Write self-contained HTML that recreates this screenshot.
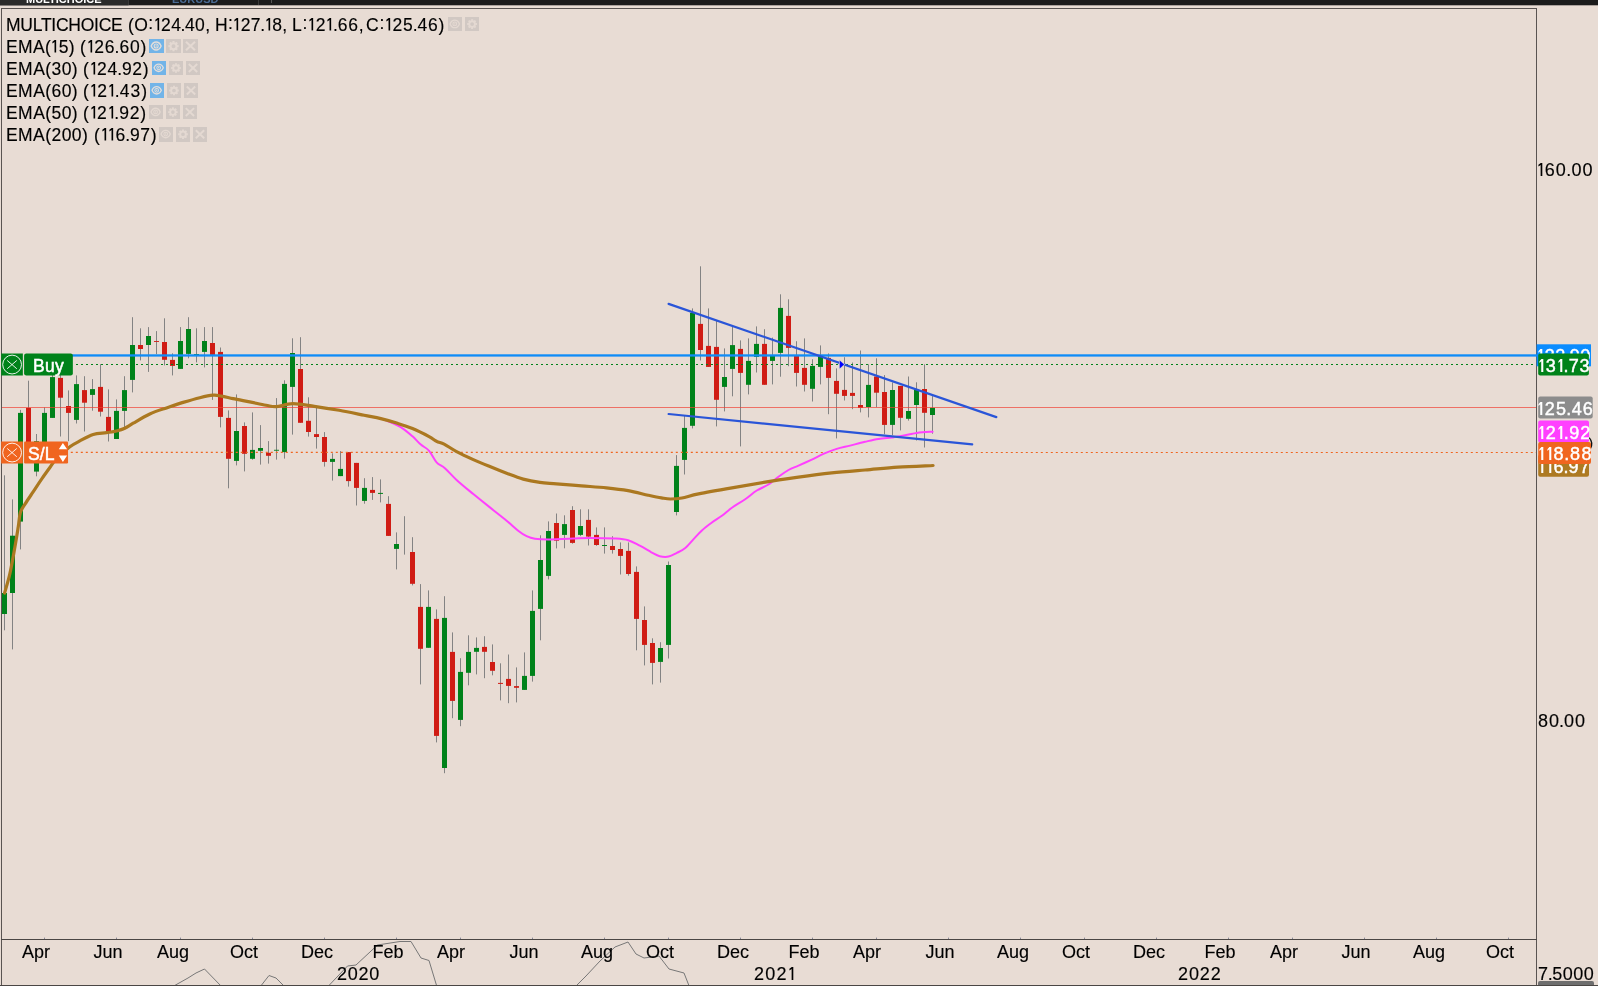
<!DOCTYPE html>
<html><head><meta charset="utf-8"><title>chart</title>
<style>
html,body{margin:0;padding:0;}
body{width:1598px;height:986px;overflow:hidden;background:#e8dcd4;font-family:"Liberation Sans",sans-serif;position:relative;color:#000;}
.abs{position:absolute;}
#topbar{left:0;top:0;width:1598px;height:6px;overflow:hidden;}
#tab1{left:0;top:0;width:128.5px;height:6px;overflow:hidden;}
.tabt{position:absolute;will-change:transform;font-size:11px;line-height:11px;font-weight:bold;white-space:nowrap;top:-6.3px;}
.lg{position:absolute;font-size:17.5px;line-height:22px;height:22px;white-space:nowrap;left:6px;}
i{font-style:normal;}
.lg span{position:absolute;top:0;white-space:nowrap;}
.mo{position:absolute;will-change:transform;-webkit-text-stroke:0.15px #000;top:941px;width:60px;text-align:center;font-size:18px;line-height:22px;}
.yr{position:absolute;top:962px;width:60px;text-align:center;font-size:18px;line-height:22px;}
.ax{position:absolute;left:1538.5px;font-size:18px;line-height:22px;white-space:nowrap;}
.pl{position:absolute;color:#fff;font-size:18px;line-height:22px;height:22px;border-radius:2px;white-space:nowrap;overflow:hidden;}
.pl span{position:absolute;left:1px;top:0.2px;transform-origin:0 50%;}
.ib{position:absolute;overflow:hidden;}
.tx{position:absolute;will-change:transform;height:22px;line-height:22px;white-space:nowrap;color:#000;-webkit-text-stroke:0.15px #000;}
.tx.w{color:#fff;}
.lt{position:absolute;height:22px;line-height:22px;font-size:17.5px;color:#fff;-webkit-text-stroke:0.35px #fff;white-space:nowrap;}
.pt{position:absolute;height:22px;line-height:22px;font-size:18px;color:#fff;-webkit-text-stroke:0.45px #fff;white-space:nowrap;}
.ib svg{display:block;}
</style></head><body>
<div id="topbar" class="abs"><svg class="abs" style="left:0;top:0" width="1598" height="6"><rect x="0" y="0" width="1598" height="5.3" fill="#1b1b1b"/><rect x="0" y="0" width="128.5" height="5.3" fill="#2b2b2b"/></svg><div id="tab1" class="abs"><div class="tabt" style="left:26px;color:#fff;">MULTICHOICE</div></div>
<div class="tabt" style="left:172px;color:#4a6b94;">EURUSD</div>
<div class="abs" style="left:128px;top:0;width:1px;height:5px;background:#3a3a3a"></div>
<div class="abs" style="left:258px;top:0;width:1px;height:5px;background:#3a3a3a"></div>
<div class="abs" style="left:271px;top:0;width:1px;height:3px;background:#555"></div>
</div>

<svg class="abs" style="left:0;top:0" width="1598" height="986" viewBox="0 0 1598 986">
<!-- bottom overview line -->
<polyline points="172.0,987.0 188.0,978.0 196.0,973.0 204.5,969.0 222.0,987.0" fill="none" stroke="#777" stroke-width="1"/>
<polyline points="260.0,987.0 269.0,975.5 276.0,978.0 285.0,987.0" fill="none" stroke="#777" stroke-width="1"/>
<polyline points="327.5,987.0 347.5,966.0 356.0,965.0 377.5,945.0 400.0,941.5 411.0,941.5 421.0,958.0 429.0,960.5 437.0,987.0" fill="none" stroke="#777" stroke-width="1"/>
<polyline points="575.0,987.0 586.0,976.0 600.0,961.0 615.0,947.0 628.0,942.0 636.0,954.0 644.0,958.0 659.0,956.0 669.0,969.0 684.0,973.0 689.5,987.0" fill="none" stroke="#777" stroke-width="1"/>
<!-- frame -->
<rect x="1" y="8" width="1536" height="1" fill="#5a5452"/>
<rect x="1" y="8" width="1" height="978" fill="#5a5452"/>
<rect x="1536" y="8" width="1" height="978" fill="#5a5452"/>
<rect x="1" y="939" width="1536" height="1" fill="#4a4644"/>
<rect x="0" y="985" width="1598" height="1" fill="#4a4644"/>
<rect x="44" y="937.6" width="1" height="1.4" fill="#8a8a9a"/><rect x="116" y="937.6" width="1" height="1.4" fill="#8a8a9a"/><rect x="180" y="937.6" width="1" height="1.4" fill="#8a8a9a"/><rect x="252" y="937.6" width="1" height="1.4" fill="#8a8a9a"/><rect x="324" y="937.6" width="1" height="1.4" fill="#8a8a9a"/><rect x="396" y="937.6" width="1" height="1.4" fill="#8a8a9a"/><rect x="460" y="937.6" width="1" height="1.4" fill="#8a8a9a"/><rect x="532" y="937.6" width="1" height="1.4" fill="#8a8a9a"/><rect x="604" y="937.6" width="1" height="1.4" fill="#8a8a9a"/><rect x="668" y="937.6" width="1" height="1.4" fill="#8a8a9a"/><rect x="740" y="937.6" width="1" height="1.4" fill="#8a8a9a"/><rect x="812" y="937.6" width="1" height="1.4" fill="#8a8a9a"/><rect x="876" y="937.6" width="1" height="1.4" fill="#8a8a9a"/><rect x="948" y="937.6" width="1" height="1.4" fill="#8a8a9a"/><rect x="1020" y="937.6" width="1" height="1.4" fill="#8a8a9a"/><rect x="1084" y="937.6" width="1" height="1.4" fill="#8a8a9a"/><rect x="1156" y="937.6" width="1" height="1.4" fill="#8a8a9a"/><rect x="1228" y="937.6" width="1" height="1.4" fill="#8a8a9a"/><rect x="1292" y="937.6" width="1" height="1.4" fill="#8a8a9a"/><rect x="1364" y="937.6" width="1" height="1.4" fill="#8a8a9a"/><rect x="1436" y="937.6" width="1" height="1.4" fill="#8a8a9a"/><rect x="1508" y="937.6" width="1" height="1.4" fill="#8a8a9a"/>
<!-- candles -->
<rect x="4" y="475.3" width="1" height="155.0" fill="#838383"/>
<rect x="2" y="593.0" width="5" height="21.0" fill="#00821a"/>
<rect x="12" y="499.4" width="1" height="150.0" fill="#838383"/>
<rect x="10" y="535.7" width="5" height="57.3" fill="#00821a"/>
<rect x="20" y="409.9" width="1" height="139.5" fill="#838383"/>
<rect x="18" y="412.9" width="5" height="108.7" fill="#00821a"/>
<rect x="28" y="380.7" width="1" height="77.3" fill="#838383"/>
<rect x="26" y="407.9" width="5" height="44.1" fill="#d01c14"/>
<rect x="36" y="434.0" width="1" height="42.3" fill="#838383"/>
<rect x="34" y="441.2" width="5" height="30.4" fill="#00821a"/>
<rect x="44" y="407.4" width="1" height="47.6" fill="#838383"/>
<rect x="42" y="412.9" width="5" height="37.1" fill="#00821a"/>
<rect x="52" y="370.0" width="1" height="47.9" fill="#838383"/>
<rect x="50" y="377.1" width="5" height="40.8" fill="#00821a"/>
<rect x="60" y="372.0" width="1" height="64.5" fill="#838383"/>
<rect x="58" y="377.9" width="5" height="19.8" fill="#d01c14"/>
<rect x="68" y="390.4" width="1" height="50.8" fill="#838383"/>
<rect x="66" y="406.0" width="5" height="6.9" fill="#d01c14"/>
<rect x="76" y="375.4" width="1" height="48.1" fill="#838383"/>
<rect x="74" y="384.1" width="5" height="35.8" fill="#00821a"/>
<rect x="84" y="376.2" width="1" height="55.3" fill="#838383"/>
<rect x="82" y="390.1" width="5" height="12.6" fill="#d01c14"/>
<rect x="92" y="379.1" width="1" height="31.6" fill="#838383"/>
<rect x="90" y="389.1" width="5" height="5.8" fill="#00821a"/>
<rect x="100" y="364.1" width="1" height="52.4" fill="#838383"/>
<rect x="98" y="386.9" width="5" height="24.8" fill="#d01c14"/>
<rect x="108" y="389.4" width="1" height="52.1" fill="#838383"/>
<rect x="106" y="416.9" width="5" height="14.3" fill="#d01c14"/>
<rect x="116" y="399.4" width="1" height="39.6" fill="#838383"/>
<rect x="114" y="410.9" width="5" height="28.1" fill="#00821a"/>
<rect x="124" y="376.2" width="1" height="52.0" fill="#838383"/>
<rect x="122" y="390.1" width="5" height="20.8" fill="#00821a"/>
<rect x="132" y="317.2" width="1" height="75.2" fill="#838383"/>
<rect x="130" y="345.0" width="5" height="34.9" fill="#00821a"/>
<rect x="140" y="328.3" width="1" height="32.1" fill="#838383"/>
<rect x="138" y="345.0" width="5" height="4.0" fill="#d01c14"/>
<rect x="148" y="327.1" width="1" height="44.8" fill="#838383"/>
<rect x="146" y="336.0" width="5" height="9.0" fill="#00821a"/>
<rect x="156" y="331.1" width="1" height="23.0" fill="#838383"/>
<rect x="154" y="341.0" width="5" height="0.9" fill="#d01c14"/>
<rect x="164" y="318.3" width="1" height="47.1" fill="#838383"/>
<rect x="162" y="342.0" width="5" height="17.8" fill="#d01c14"/>
<rect x="172" y="353.3" width="1" height="22.1" fill="#838383"/>
<rect x="170" y="359.9" width="5" height="6.0" fill="#d01c14"/>
<rect x="180" y="327.1" width="1" height="41.8" fill="#838383"/>
<rect x="178" y="341.0" width="5" height="27.9" fill="#00821a"/>
<rect x="188" y="317.2" width="1" height="41.1" fill="#838383"/>
<rect x="186" y="329.0" width="5" height="24.9" fill="#00821a"/>
<rect x="196" y="328.3" width="1" height="34.1" fill="#838383"/>
<rect x="194" y="354.0" width="5" height="1.0" fill="#00821a"/>
<rect x="204" y="327.1" width="1" height="40.3" fill="#838383"/>
<rect x="202" y="341.0" width="5" height="10.9" fill="#00821a"/>
<rect x="212" y="327.1" width="1" height="72.8" fill="#838383"/>
<rect x="210" y="343.0" width="5" height="11.9" fill="#d01c14"/>
<rect x="220" y="347.5" width="1" height="79.9" fill="#838383"/>
<rect x="218" y="351.9" width="5" height="65.0" fill="#d01c14"/>
<rect x="228" y="410.4" width="1" height="77.9" fill="#838383"/>
<rect x="226" y="417.9" width="5" height="40.9" fill="#d01c14"/>
<rect x="236" y="394.4" width="1" height="71.0" fill="#838383"/>
<rect x="234" y="431.0" width="5" height="29.9" fill="#00821a"/>
<rect x="244" y="422.4" width="1" height="49.0" fill="#838383"/>
<rect x="242" y="426.0" width="5" height="27.8" fill="#d01c14"/>
<rect x="252" y="412.4" width="1" height="47.3" fill="#838383"/>
<rect x="250" y="449.9" width="5" height="8.9" fill="#00821a"/>
<rect x="260" y="425.1" width="1" height="39.5" fill="#838383"/>
<rect x="258" y="448.0" width="5" height="2.8" fill="#00821a"/>
<rect x="268" y="441.1" width="1" height="22.5" fill="#838383"/>
<rect x="266" y="452.8" width="5" height="3.0" fill="#d01c14"/>
<rect x="276" y="398.1" width="1" height="61.5" fill="#838383"/>
<rect x="274" y="449.8" width="5" height="0.9" fill="#00821a"/>
<rect x="284" y="380.3" width="1" height="78.3" fill="#838383"/>
<rect x="282" y="383.9" width="5" height="68.2" fill="#00821a"/>
<rect x="292" y="338.3" width="1" height="96.3" fill="#838383"/>
<rect x="290" y="353.0" width="5" height="33.9" fill="#00821a"/>
<rect x="300" y="337.2" width="1" height="85.6" fill="#838383"/>
<rect x="298" y="369.0" width="5" height="53.8" fill="#d01c14"/>
<rect x="308" y="397.3" width="1" height="39.3" fill="#838383"/>
<rect x="306" y="420.8" width="5" height="11.2" fill="#d01c14"/>
<rect x="316" y="407.7" width="1" height="40.9" fill="#838383"/>
<rect x="314" y="434.1" width="5" height="2.9" fill="#d01c14"/>
<rect x="324" y="432.1" width="1" height="34.5" fill="#838383"/>
<rect x="322" y="437.0" width="5" height="24.9" fill="#d01c14"/>
<rect x="332" y="453.3" width="1" height="27.3" fill="#838383"/>
<rect x="330" y="458.9" width="5" height="3.0" fill="#00821a"/>
<rect x="340" y="451.1" width="1" height="25.0" fill="#838383"/>
<rect x="338" y="468.9" width="5" height="7.2" fill="#00821a"/>
<rect x="348" y="452.1" width="1" height="34.5" fill="#838383"/>
<rect x="346" y="452.1" width="5" height="29.0" fill="#d01c14"/>
<rect x="356" y="462.9" width="1" height="42.6" fill="#838383"/>
<rect x="354" y="462.9" width="5" height="25.0" fill="#d01c14"/>
<rect x="364" y="478.2" width="1" height="25.5" fill="#838383"/>
<rect x="362" y="487.9" width="5" height="13.0" fill="#00821a"/>
<rect x="372" y="477.1" width="1" height="22.8" fill="#838383"/>
<rect x="370" y="489.9" width="5" height="3.0" fill="#d01c14"/>
<rect x="380" y="479.4" width="1" height="23.0" fill="#838383"/>
<rect x="378" y="492.9" width="5" height="1.0" fill="#00821a"/>
<rect x="388" y="496.2" width="1" height="39.7" fill="#838383"/>
<rect x="386" y="503.9" width="5" height="32.0" fill="#d01c14"/>
<rect x="396" y="532.4" width="1" height="37.0" fill="#838383"/>
<rect x="394" y="544.0" width="5" height="4.9" fill="#00821a"/>
<rect x="404" y="516.2" width="1" height="38.4" fill="#838383"/>
<rect x="412" y="537.2" width="1" height="48.2" fill="#838383"/>
<rect x="410" y="552.0" width="5" height="31.8" fill="#d01c14"/>
<rect x="420" y="584.1" width="1" height="100.3" fill="#838383"/>
<rect x="418" y="606.9" width="5" height="41.9" fill="#d01c14"/>
<rect x="428" y="590.4" width="1" height="57.4" fill="#838383"/>
<rect x="426" y="606.9" width="5" height="40.9" fill="#00821a"/>
<rect x="436" y="609.4" width="1" height="133.0" fill="#838383"/>
<rect x="434" y="618.9" width="5" height="117.0" fill="#d01c14"/>
<rect x="444" y="596.2" width="1" height="177.0" fill="#838383"/>
<rect x="442" y="617.9" width="5" height="150.1" fill="#00821a"/>
<rect x="452" y="632.4" width="1" height="85.8" fill="#838383"/>
<rect x="450" y="651.9" width="5" height="49.0" fill="#d01c14"/>
<rect x="460" y="658.2" width="1" height="68.0" fill="#838383"/>
<rect x="458" y="671.9" width="5" height="48.0" fill="#00821a"/>
<rect x="468" y="635.3" width="1" height="50.0" fill="#838383"/>
<rect x="466" y="651.9" width="5" height="20.9" fill="#00821a"/>
<rect x="476" y="637.4" width="1" height="37.0" fill="#838383"/>
<rect x="474" y="647.9" width="5" height="3.9" fill="#00821a"/>
<rect x="484" y="636.2" width="1" height="42.0" fill="#838383"/>
<rect x="482" y="646.9" width="5" height="4.9" fill="#d01c14"/>
<rect x="492" y="644.4" width="1" height="30.9" fill="#838383"/>
<rect x="490" y="662.0" width="5" height="8.8" fill="#d01c14"/>
<rect x="500" y="663.3" width="1" height="37.1" fill="#838383"/>
<rect x="498" y="682.9" width="5" height="1.0" fill="#d01c14"/>
<rect x="508" y="654.5" width="1" height="48.7" fill="#838383"/>
<rect x="506" y="678.9" width="5" height="7.0" fill="#d01c14"/>
<rect x="516" y="667.4" width="1" height="35.0" fill="#838383"/>
<rect x="514" y="686.1" width="5" height="1.7" fill="#d01c14"/>
<rect x="524" y="652.4" width="1" height="37.5" fill="#838383"/>
<rect x="522" y="675.9" width="5" height="14.0" fill="#00821a"/>
<rect x="532" y="590.4" width="1" height="91.2" fill="#838383"/>
<rect x="530" y="610.9" width="5" height="65.0" fill="#00821a"/>
<rect x="540" y="535.3" width="1" height="105.0" fill="#838383"/>
<rect x="538" y="560.0" width="5" height="48.9" fill="#00821a"/>
<rect x="548" y="521.4" width="1" height="58.0" fill="#838383"/>
<rect x="546" y="531.0" width="5" height="44.9" fill="#00821a"/>
<rect x="556" y="513.5" width="1" height="34.9" fill="#838383"/>
<rect x="554" y="523.0" width="5" height="17.7" fill="#d01c14"/>
<rect x="564" y="515.3" width="1" height="33.0" fill="#838383"/>
<rect x="562" y="524.1" width="5" height="10.8" fill="#00821a"/>
<rect x="572" y="506.2" width="1" height="37.5" fill="#838383"/>
<rect x="570" y="510.0" width="5" height="32.9" fill="#d01c14"/>
<rect x="580" y="509.3" width="1" height="26.8" fill="#838383"/>
<rect x="578" y="526.0" width="5" height="8.9" fill="#00821a"/>
<rect x="588" y="509.3" width="1" height="36.2" fill="#838383"/>
<rect x="586" y="519.9" width="5" height="16.7" fill="#d01c14"/>
<rect x="596" y="527.4" width="1" height="18.4" fill="#838383"/>
<rect x="594" y="534.9" width="5" height="10.1" fill="#d01c14"/>
<rect x="604" y="527.4" width="1" height="26.2" fill="#838383"/>
<rect x="602" y="545.0" width="5" height="1.0" fill="#00821a"/>
<rect x="612" y="536.2" width="1" height="17.4" fill="#838383"/>
<rect x="610" y="546.0" width="5" height="4.0" fill="#d01c14"/>
<rect x="620" y="542.4" width="1" height="32.1" fill="#838383"/>
<rect x="618" y="549.0" width="5" height="6.9" fill="#d01c14"/>
<rect x="628" y="542.4" width="1" height="33.3" fill="#838383"/>
<rect x="626" y="550.9" width="5" height="23.1" fill="#d01c14"/>
<rect x="636" y="566.4" width="1" height="83.9" fill="#838383"/>
<rect x="634" y="571.9" width="5" height="47.0" fill="#d01c14"/>
<rect x="644" y="606.4" width="1" height="59.0" fill="#838383"/>
<rect x="642" y="620.0" width="5" height="24.9" fill="#d01c14"/>
<rect x="652" y="638.3" width="1" height="46.1" fill="#838383"/>
<rect x="650" y="643.0" width="5" height="19.9" fill="#d01c14"/>
<rect x="660" y="642.2" width="1" height="40.4" fill="#838383"/>
<rect x="658" y="648.0" width="5" height="13.9" fill="#00821a"/>
<rect x="668" y="561.5" width="1" height="97.0" fill="#838383"/>
<rect x="666" y="565.0" width="5" height="79.9" fill="#00821a"/>
<rect x="676" y="455.1" width="1" height="60.3" fill="#838383"/>
<rect x="674" y="465.9" width="5" height="46.1" fill="#00821a"/>
<rect x="684" y="415.6" width="1" height="58.9" fill="#838383"/>
<rect x="682" y="427.9" width="5" height="32.0" fill="#00821a"/>
<rect x="692" y="308.4" width="1" height="120.0" fill="#838383"/>
<rect x="690" y="312.9" width="5" height="112.9" fill="#00821a"/>
<rect x="700" y="266.3" width="1" height="94.2" fill="#838383"/>
<rect x="698" y="323.9" width="5" height="26.1" fill="#d01c14"/>
<rect x="708" y="308.4" width="1" height="58.5" fill="#838383"/>
<rect x="706" y="345.9" width="5" height="21.0" fill="#d01c14"/>
<rect x="716" y="320.9" width="1" height="105.5" fill="#838383"/>
<rect x="714" y="346.9" width="5" height="52.9" fill="#d01c14"/>
<rect x="724" y="348.4" width="1" height="63.0" fill="#838383"/>
<rect x="722" y="377.0" width="5" height="9.9" fill="#00821a"/>
<rect x="732" y="326.7" width="1" height="69.6" fill="#838383"/>
<rect x="730" y="345.1" width="5" height="23.8" fill="#00821a"/>
<rect x="740" y="340.4" width="1" height="106.0" fill="#838383"/>
<rect x="738" y="348.9" width="5" height="24.0" fill="#d01c14"/>
<rect x="748" y="338.4" width="1" height="56.0" fill="#838383"/>
<rect x="746" y="360.9" width="5" height="23.9" fill="#00821a"/>
<rect x="756" y="326.4" width="1" height="46.1" fill="#838383"/>
<rect x="754" y="343.9" width="5" height="13.0" fill="#00821a"/>
<rect x="764" y="329.2" width="1" height="55.6" fill="#838383"/>
<rect x="762" y="343.9" width="5" height="40.9" fill="#d01c14"/>
<rect x="772" y="337.6" width="1" height="46.8" fill="#838383"/>
<rect x="770" y="355.9" width="5" height="5.0" fill="#00821a"/>
<rect x="780" y="294.3" width="1" height="82.4" fill="#838383"/>
<rect x="778" y="307.9" width="5" height="45.0" fill="#00821a"/>
<rect x="788" y="299.3" width="1" height="66.9" fill="#838383"/>
<rect x="786" y="315.9" width="5" height="32.0" fill="#d01c14"/>
<rect x="796" y="341.2" width="1" height="45.3" fill="#838383"/>
<rect x="794" y="355.9" width="5" height="17.0" fill="#d01c14"/>
<rect x="804" y="338.4" width="1" height="53.1" fill="#838383"/>
<rect x="802" y="367.9" width="5" height="16.9" fill="#d01c14"/>
<rect x="812" y="359.2" width="1" height="42.3" fill="#838383"/>
<rect x="810" y="365.9" width="5" height="22.9" fill="#00821a"/>
<rect x="820" y="345.4" width="1" height="39.0" fill="#838383"/>
<rect x="818" y="355.9" width="5" height="11.0" fill="#00821a"/>
<rect x="828" y="353.4" width="1" height="60.8" fill="#838383"/>
<rect x="826" y="357.9" width="5" height="20.0" fill="#d01c14"/>
<rect x="836" y="368.4" width="1" height="70.0" fill="#838383"/>
<rect x="834" y="380.9" width="5" height="12.9" fill="#d01c14"/>
<rect x="844" y="357.2" width="1" height="43.3" fill="#838383"/>
<rect x="842" y="389.9" width="5" height="6.0" fill="#d01c14"/>
<rect x="852" y="362.5" width="1" height="46.7" fill="#838383"/>
<rect x="850" y="392.9" width="5" height="3.0" fill="#d01c14"/>
<rect x="860" y="350.5" width="1" height="61.9" fill="#838383"/>
<rect x="858" y="405.0" width="5" height="2.9" fill="#d01c14"/>
<rect x="868" y="364.3" width="1" height="53.1" fill="#838383"/>
<rect x="866" y="384.9" width="5" height="22.1" fill="#00821a"/>
<rect x="876" y="358.3" width="1" height="48.9" fill="#838383"/>
<rect x="874" y="376.5" width="5" height="16.2" fill="#d01c14"/>
<rect x="884" y="375.1" width="1" height="59.2" fill="#838383"/>
<rect x="882" y="392.0" width="5" height="32.9" fill="#d01c14"/>
<rect x="892" y="382.4" width="1" height="52.8" fill="#838383"/>
<rect x="890" y="390.0" width="5" height="34.9" fill="#00821a"/>
<rect x="900" y="385.9" width="1" height="44.5" fill="#838383"/>
<rect x="898" y="385.9" width="5" height="31.9" fill="#d01c14"/>
<rect x="908" y="376.5" width="1" height="44.1" fill="#838383"/>
<rect x="906" y="411.0" width="5" height="7.8" fill="#00821a"/>
<rect x="916" y="382.3" width="1" height="58.2" fill="#838383"/>
<rect x="914" y="389.7" width="5" height="15.3" fill="#00821a"/>
<rect x="924" y="364.4" width="1" height="83.1" fill="#838383"/>
<rect x="922" y="389.0" width="5" height="23.8" fill="#d01c14"/>
<rect x="932" y="396.1" width="1" height="37.6" fill="#838383"/>
<rect x="930" y="407.9" width="5" height="7.1" fill="#00821a"/>
<!-- price lines -->
<rect x="2" y="407" width="1534" height="1" fill="#f03c30" fill-opacity="0.68"/>
<line x1="76" y1="364.5" x2="1536" y2="364.5" stroke="#00821a" stroke-width="1.2" stroke-dasharray="2 3"/>
<line x1="70.8" y1="452.45" x2="1536" y2="452.5" stroke="#f0651f" stroke-width="1.2" stroke-dasharray="2 3"/>
<!-- blue horizontal line -->
<rect x="72" y="354.3" width="1465" height="2.3" fill="#0f8cf8"/>
<!-- EMAs -->
<path d="M380.0 418.0 C381.9 418.8 387.9 421.1 391.7 422.8 C395.4 424.5 399.0 426.1 402.5 428.3 C406.0 430.6 409.4 433.6 412.5 436.3 C415.6 439.0 418.0 442.2 420.8 444.6 C423.6 447.0 426.5 447.8 429.1 450.8 C431.7 453.8 434.0 459.5 436.6 462.4 C439.2 465.3 441.6 465.3 444.9 468.2 C448.2 471.1 451.9 475.6 456.6 479.9 C461.3 484.2 467.8 489.5 473.3 494.1 C478.9 498.7 484.3 503.0 489.9 507.4 C495.4 511.8 501.9 516.8 506.6 520.7 C511.3 524.6 514.9 528.1 518.2 530.7 C521.5 533.3 523.8 534.9 526.6 536.2 C529.4 537.5 531.3 538.2 534.9 538.7 C538.5 539.2 541.8 539.4 548.2 539.4 C554.6 539.4 566.3 538.8 573.2 538.5 C580.1 538.2 582.9 537.9 589.8 537.9 C596.7 537.9 608.4 538.1 614.8 538.5 C621.2 538.9 623.9 539.0 628.1 540.2 C632.3 541.4 635.9 543.7 639.8 545.7 C643.7 547.7 648.1 550.5 651.4 552.3 C654.7 554.0 656.8 555.5 659.7 556.2 C662.6 556.9 665.7 557.2 668.6 556.6 C671.5 556.0 674.1 554.3 676.9 552.9 C679.7 551.5 682.5 550.3 685.3 548.0 C688.1 545.7 690.8 542.0 693.6 539.1 C696.4 536.2 698.9 533.3 701.9 530.5 C704.9 527.7 708.6 525.0 711.9 522.5 C715.2 520.0 718.6 518.2 721.9 515.8 C725.2 513.3 728.0 510.6 731.9 507.8 C735.8 505.0 741.1 502.1 745.2 499.2 C749.4 496.3 752.9 492.9 756.8 490.5 C760.7 488.1 764.9 486.8 768.5 484.5 C772.1 482.2 775.2 479.1 778.5 476.7 C781.8 474.3 785.2 471.9 788.5 470.0 C791.8 468.1 794.6 467.3 798.5 465.6 C802.4 463.9 807.6 461.6 811.8 459.7 C815.9 457.8 819.2 455.7 823.4 453.9 C827.5 452.1 832.2 450.3 836.7 448.9 C841.2 447.5 845.4 446.8 850.1 445.6 C854.8 444.4 860.3 442.9 865.0 441.8 C869.7 440.7 873.9 439.6 878.4 438.9 C882.9 438.2 888.4 438.0 891.7 437.6 C895.0 437.2 893.8 437.4 898.0 436.6 C902.2 435.8 911.0 433.8 916.8 433.0 C922.6 432.2 930.0 431.9 932.6 431.7" fill="none" stroke="#ff40ff" stroke-width="2" stroke-linejoin="round" stroke-linecap="round"/>
<path d="M4.6 593.0 C5.5 589.7 8.3 581.0 10.0 573.2 C11.7 565.5 13.6 554.3 15.0 546.5 C16.4 538.7 17.4 532.2 18.3 526.6 C19.2 521.0 19.2 516.5 20.3 512.7 C21.4 509.0 22.8 507.6 25.0 504.1 C27.2 500.6 30.5 495.8 33.3 491.6 C36.1 487.4 38.8 483.1 41.6 479.1 C44.4 475.1 47.4 471.0 49.9 467.5 C52.4 464.0 53.3 461.8 56.6 458.3 C59.9 454.9 66.0 449.7 69.9 446.8 C73.8 443.9 76.0 442.9 79.9 440.9 C83.8 438.8 88.8 435.9 93.2 434.5 C97.6 433.1 102.6 433.3 106.5 432.7 C110.4 432.1 113.5 431.8 116.5 431.0 C119.5 430.2 122.0 429.5 124.8 428.2 C127.6 426.9 129.0 425.6 133.2 423.2 C137.4 420.8 144.2 416.6 149.8 414.0 C155.4 411.4 160.9 409.8 166.5 407.9 C172.1 406.0 177.5 404.1 183.1 402.4 C188.7 400.7 194.8 398.9 199.8 397.7 C204.8 396.5 209.5 395.5 213.1 395.2 C216.7 394.9 218.1 395.5 221.4 396.1 C224.7 396.7 228.3 397.6 233.0 398.6 C237.7 399.6 244.2 400.8 249.7 401.9 C255.2 403.0 261.6 404.4 266.0 405.2 C270.4 406.0 271.6 406.9 276.0 406.7 C280.4 406.4 286.2 403.8 292.6 403.7 C299.0 403.6 306.5 405.2 314.3 406.3 C322.1 407.4 330.9 408.8 339.2 410.3 C347.5 411.8 357.3 413.9 364.2 415.3 C371.1 416.7 375.2 417.3 380.8 418.6 C386.4 419.9 392.2 421.6 397.5 423.3 C402.8 425.0 407.2 426.4 412.5 428.6 C417.8 430.8 425.1 434.5 429.1 436.6 C433.1 438.7 434.1 440.1 436.6 441.3 C439.1 442.6 440.8 442.4 444.1 444.1 C447.4 445.8 451.7 449.0 456.6 451.6 C461.5 454.2 467.8 457.1 473.3 459.6 C478.9 462.1 484.3 464.3 489.9 466.6 C495.4 468.9 501.1 471.2 506.6 473.3 C512.2 475.4 517.7 477.6 523.2 479.1 C528.8 480.6 534.4 481.6 539.9 482.4 C545.4 483.2 549.6 483.2 556.5 483.8 C563.4 484.4 573.2 485.1 581.5 485.8 C589.8 486.5 598.7 487.1 606.5 487.9 C614.3 488.7 621.2 489.5 628.1 490.7 C635.0 491.9 642.6 494.0 648.1 495.2 C653.6 496.4 657.7 497.3 661.4 497.9 C665.1 498.5 666.9 499.0 670.3 499.0 C673.7 499.0 677.2 498.9 681.9 498.0 C686.6 497.1 690.3 495.6 698.6 493.9 C706.9 492.2 720.8 489.8 731.9 487.9 C743.0 485.9 754.1 484.0 765.2 482.2 C776.3 480.4 787.4 478.8 798.5 477.2 C809.6 475.6 820.6 474.1 831.7 472.9 C842.8 471.7 854.0 470.9 865.0 470.0 C876.0 469.1 886.6 467.9 898.0 467.2 C909.4 466.4 927.2 465.8 933.1 465.5" fill="none" stroke="#ab7820" stroke-width="3.2" stroke-linejoin="round" stroke-linecap="round"/>
<!-- trendlines -->
<line x1="668.6" y1="303.9" x2="996.3" y2="417.1" stroke="#2a55d8" stroke-width="2.2" stroke-linecap="round"/>
<line x1="668.6" y1="414" x2="972.2" y2="444.3" stroke="#2a55d8" stroke-width="2.2" stroke-linecap="round"/>
<path d="M839.7 360.6 L844.1 364.5 L839.7 368.4Z" fill="#0000ff" stroke="#d9d2cc" stroke-width="1.3" paint-order="stroke" stroke-linejoin="miter"/>
</svg>

<!-- legend -->
<div class="tx " style="left:5.75px;top:13.6px;font-size:17.5px;letter-spacing:-0.257px;">MULTICHOICE</div><div class="tx " style="left:127.99px;top:13.6px;font-size:17.5px;letter-spacing:0.39px;">(O<i style="position:relative;top:-1.57px">:</i><svg viewBox="0 0 43 71.6" style="width:0.43em;height:0.716em;vertical-align:baseline;overflow:visible"><path d="M21.0 0 H29.5 V71.6 H20.2 V10.8 L8 19.8 V9.8 L21.0 0Z" fill="currentColor"/></svg>24<i style="margin:0 -0.79px">.</i>40,</div><div class="tx " style="left:215.35px;top:13.6px;font-size:17.5px;letter-spacing:0.359px;">H<i style="position:relative;top:-1.57px">:</i><svg viewBox="0 0 43 71.6" style="width:0.43em;height:0.716em;vertical-align:baseline;overflow:visible"><path d="M21.0 0 H29.5 V71.6 H20.2 V10.8 L8 19.8 V9.8 L21.0 0Z" fill="currentColor"/></svg>27<i style="margin:0 -0.79px">.</i><svg viewBox="0 0 43 71.6" style="width:0.43em;height:0.716em;vertical-align:baseline;overflow:visible"><path d="M21.0 0 H29.5 V71.6 H20.2 V10.8 L8 19.8 V9.8 L21.0 0Z" fill="currentColor"/></svg>8,</div><div class="tx " style="left:291.65px;top:13.6px;font-size:17.5px;letter-spacing:0.752px;">L<i style="position:relative;top:-1.57px">:</i><svg viewBox="0 0 43 71.6" style="width:0.43em;height:0.716em;vertical-align:baseline;overflow:visible"><path d="M21.0 0 H29.5 V71.6 H20.2 V10.8 L8 19.8 V9.8 L21.0 0Z" fill="currentColor"/></svg>2<svg viewBox="0 0 43 71.6" style="width:0.43em;height:0.716em;vertical-align:baseline;overflow:visible"><path d="M21.0 0 H29.5 V71.6 H20.2 V10.8 L8 19.8 V9.8 L21.0 0Z" fill="currentColor"/></svg><i style="margin:0 -0.79px">.</i>66,</div><div class="tx " style="left:366.4px;top:13.6px;font-size:17.5px;letter-spacing:0.743px;">C<i style="position:relative;top:-1.57px">:</i><svg viewBox="0 0 43 71.6" style="width:0.43em;height:0.716em;vertical-align:baseline;overflow:visible"><path d="M21.0 0 H29.5 V71.6 H20.2 V10.8 L8 19.8 V9.8 L21.0 0Z" fill="currentColor"/></svg>25<i style="margin:0 -0.79px">.</i>46)</div>
<div class="tx " style="left:6.05px;top:35.6px;font-size:17.5px;letter-spacing:0.349px;">EMA(<svg viewBox="0 0 43 71.6" style="width:0.43em;height:0.716em;vertical-align:baseline;overflow:visible"><path d="M21.0 0 H29.5 V71.6 H20.2 V10.8 L8 19.8 V9.8 L21.0 0Z" fill="currentColor"/></svg>5)</div><div class="tx " style="left:80.29px;top:35.6px;font-size:17.5px;letter-spacing:0.832px;">(<svg viewBox="0 0 43 71.6" style="width:0.43em;height:0.716em;vertical-align:baseline;overflow:visible"><path d="M21.0 0 H29.5 V71.6 H20.2 V10.8 L8 19.8 V9.8 L21.0 0Z" fill="currentColor"/></svg>26<i style="margin:0 -0.79px">.</i>60)</div>
<div class="tx " style="left:6.05px;top:57.6px;font-size:17.5px;letter-spacing:0.441px;">EMA(30)</div><div class="tx " style="left:83.39px;top:57.6px;font-size:17.5px;letter-spacing:0.699px;">(<svg viewBox="0 0 43 71.6" style="width:0.43em;height:0.716em;vertical-align:baseline;overflow:visible"><path d="M21.0 0 H29.5 V71.6 H20.2 V10.8 L8 19.8 V9.8 L21.0 0Z" fill="currentColor"/></svg>24<i style="margin:0 -0.79px">.</i>92)</div>
<div class="tx " style="left:6.05px;top:79.6px;font-size:17.5px;letter-spacing:0.441px;">EMA(60)</div><div class="tx " style="left:83.39px;top:79.6px;font-size:17.5px;letter-spacing:0.983px;">(<svg viewBox="0 0 43 71.6" style="width:0.43em;height:0.716em;vertical-align:baseline;overflow:visible"><path d="M21.0 0 H29.5 V71.6 H20.2 V10.8 L8 19.8 V9.8 L21.0 0Z" fill="currentColor"/></svg>2<svg viewBox="0 0 43 71.6" style="width:0.43em;height:0.716em;vertical-align:baseline;overflow:visible"><path d="M21.0 0 H29.5 V71.6 H20.2 V10.8 L8 19.8 V9.8 L21.0 0Z" fill="currentColor"/></svg><i style="margin:0 -0.79px">.</i>43)</div>
<div class="tx " style="left:6.05px;top:101.6px;font-size:17.5px;letter-spacing:0.441px;">EMA(50)</div><div class="tx " style="left:83.39px;top:101.6px;font-size:17.5px;letter-spacing:0.763px;">(<svg viewBox="0 0 43 71.6" style="width:0.43em;height:0.716em;vertical-align:baseline;overflow:visible"><path d="M21.0 0 H29.5 V71.6 H20.2 V10.8 L8 19.8 V9.8 L21.0 0Z" fill="currentColor"/></svg>2<svg viewBox="0 0 43 71.6" style="width:0.43em;height:0.716em;vertical-align:baseline;overflow:visible"><path d="M21.0 0 H29.5 V71.6 H20.2 V10.8 L8 19.8 V9.8 L21.0 0Z" fill="currentColor"/></svg><i style="margin:0 -0.79px">.</i>92)</div>
<div class="tx " style="left:6.05px;top:123.6px;font-size:17.5px;letter-spacing:0.435px;">EMA(200)</div><div class="tx " style="left:93.59px;top:123.6px;font-size:17.5px;letter-spacing:0.663px;">(<svg viewBox="0 0 43 71.6" style="width:0.43em;height:0.716em;vertical-align:baseline;overflow:visible"><path d="M21.0 0 H29.5 V71.6 H20.2 V10.8 L8 19.8 V9.8 L21.0 0Z" fill="currentColor"/></svg><svg viewBox="0 0 43 71.6" style="width:0.43em;height:0.716em;vertical-align:baseline;overflow:visible"><path d="M21.0 0 H29.5 V71.6 H20.2 V10.8 L8 19.8 V9.8 L21.0 0Z" fill="currentColor"/></svg>6<i style="margin:0 -0.79px">.</i>97)</div>
<div class="ib" style="left:448px;top:17px;width:14.2px;height:14.2px;background:#d1c8c3"><svg viewBox="0 0 15 14" width="100%" height="100%"><path d="M2.2 6.8 C4.4 1.5 9.9 1.5 12.1 6.8 C9.9 12.1 4.4 12.1 2.2 6.8Z" fill="none" stroke="#e4d9d2" stroke-width="1.45" stroke-linejoin="round"/><circle cx="7.15" cy="6.8" r="2.0" fill="none" stroke="#e4d9d2" stroke-width="1.1"/><circle cx="7.15" cy="6.8" r="0.75" fill="#e4d9d2"/></svg></div><div class="ib" style="left:465px;top:17px;width:14.2px;height:14.2px;background:#d1c8c3"><svg viewBox="0 0 15 14" width="100%" height="100%"><line x1="10.90" y1="7.00" x2="12.65" y2="7.00" stroke="#e4d9d2" stroke-width="2.1"/><line x1="9.90" y1="9.40" x2="11.14" y2="10.64" stroke="#e4d9d2" stroke-width="2.1"/><line x1="7.50" y1="10.40" x2="7.50" y2="12.15" stroke="#e4d9d2" stroke-width="2.1"/><line x1="5.10" y1="9.40" x2="3.86" y2="10.64" stroke="#e4d9d2" stroke-width="2.1"/><line x1="4.10" y1="7.00" x2="2.35" y2="7.00" stroke="#e4d9d2" stroke-width="2.1"/><line x1="5.10" y1="4.60" x2="3.86" y2="3.36" stroke="#e4d9d2" stroke-width="2.1"/><line x1="7.50" y1="3.60" x2="7.50" y2="1.85" stroke="#e4d9d2" stroke-width="2.1"/><line x1="9.90" y1="4.60" x2="11.14" y2="3.36" stroke="#e4d9d2" stroke-width="2.1"/><circle cx="7.5" cy="7" r="3.0" fill="none" stroke="#e4d9d2" stroke-width="2.0"/></svg></div><div class="ib" style="left:149px;top:39px;width:15px;height:14.3px;background:#72b4e8"><svg viewBox="0 0 15 14" width="100%" height="100%"><path d="M2.2 6.8 C4.4 1.5 9.9 1.5 12.1 6.8 C9.9 12.1 4.4 12.1 2.2 6.8Z" fill="none" stroke="#e3dedb" stroke-width="1.45" stroke-linejoin="round"/><circle cx="7.15" cy="6.8" r="2.0" fill="none" stroke="#e3dedb" stroke-width="1.1"/><circle cx="7.15" cy="6.8" r="0.75" fill="#e3dedb"/></svg></div><div class="ib" style="left:166px;top:39px;width:15px;height:14.3px;background:#d1c8c3"><svg viewBox="0 0 15 14" width="100%" height="100%"><line x1="10.90" y1="7.00" x2="12.65" y2="7.00" stroke="#e4d9d2" stroke-width="2.1"/><line x1="9.90" y1="9.40" x2="11.14" y2="10.64" stroke="#e4d9d2" stroke-width="2.1"/><line x1="7.50" y1="10.40" x2="7.50" y2="12.15" stroke="#e4d9d2" stroke-width="2.1"/><line x1="5.10" y1="9.40" x2="3.86" y2="10.64" stroke="#e4d9d2" stroke-width="2.1"/><line x1="4.10" y1="7.00" x2="2.35" y2="7.00" stroke="#e4d9d2" stroke-width="2.1"/><line x1="5.10" y1="4.60" x2="3.86" y2="3.36" stroke="#e4d9d2" stroke-width="2.1"/><line x1="7.50" y1="3.60" x2="7.50" y2="1.85" stroke="#e4d9d2" stroke-width="2.1"/><line x1="9.90" y1="4.60" x2="11.14" y2="3.36" stroke="#e4d9d2" stroke-width="2.1"/><circle cx="7.5" cy="7" r="3.0" fill="none" stroke="#e4d9d2" stroke-width="2.0"/></svg></div><div class="ib" style="left:183px;top:39px;width:15px;height:14.3px;background:#d1c8c3"><svg viewBox="0 0 15 14" width="100%" height="100%"><path d="M3.0 2.7 L12.0 11.2 M12.0 2.7 L3.0 11.2" stroke="#e4d9d2" stroke-width="2.1" fill="none"/></svg></div><div class="ib" style="left:152px;top:61px;width:14px;height:14px;background:#72b4e8"><svg viewBox="0 0 15 14" width="100%" height="100%"><path d="M2.2 6.8 C4.4 1.5 9.9 1.5 12.1 6.8 C9.9 12.1 4.4 12.1 2.2 6.8Z" fill="none" stroke="#e3dedb" stroke-width="1.45" stroke-linejoin="round"/><circle cx="7.15" cy="6.8" r="2.0" fill="none" stroke="#e3dedb" stroke-width="1.1"/><circle cx="7.15" cy="6.8" r="0.75" fill="#e3dedb"/></svg></div><div class="ib" style="left:169px;top:61px;width:14px;height:14px;background:#d1c8c3"><svg viewBox="0 0 15 14" width="100%" height="100%"><line x1="10.90" y1="7.00" x2="12.65" y2="7.00" stroke="#e4d9d2" stroke-width="2.1"/><line x1="9.90" y1="9.40" x2="11.14" y2="10.64" stroke="#e4d9d2" stroke-width="2.1"/><line x1="7.50" y1="10.40" x2="7.50" y2="12.15" stroke="#e4d9d2" stroke-width="2.1"/><line x1="5.10" y1="9.40" x2="3.86" y2="10.64" stroke="#e4d9d2" stroke-width="2.1"/><line x1="4.10" y1="7.00" x2="2.35" y2="7.00" stroke="#e4d9d2" stroke-width="2.1"/><line x1="5.10" y1="4.60" x2="3.86" y2="3.36" stroke="#e4d9d2" stroke-width="2.1"/><line x1="7.50" y1="3.60" x2="7.50" y2="1.85" stroke="#e4d9d2" stroke-width="2.1"/><line x1="9.90" y1="4.60" x2="11.14" y2="3.36" stroke="#e4d9d2" stroke-width="2.1"/><circle cx="7.5" cy="7" r="3.0" fill="none" stroke="#e4d9d2" stroke-width="2.0"/></svg></div><div class="ib" style="left:186px;top:61px;width:14px;height:14px;background:#d1c8c3"><svg viewBox="0 0 15 14" width="100%" height="100%"><path d="M3.0 2.7 L12.0 11.2 M12.0 2.7 L3.0 11.2" stroke="#e4d9d2" stroke-width="2.1" fill="none"/></svg></div><div class="ib" style="left:150px;top:83px;width:14px;height:15px;background:#72b4e8"><svg viewBox="0 0 15 14" width="100%" height="100%"><path d="M2.2 6.8 C4.4 1.5 9.9 1.5 12.1 6.8 C9.9 12.1 4.4 12.1 2.2 6.8Z" fill="none" stroke="#e3dedb" stroke-width="1.45" stroke-linejoin="round"/><circle cx="7.15" cy="6.8" r="2.0" fill="none" stroke="#e3dedb" stroke-width="1.1"/><circle cx="7.15" cy="6.8" r="0.75" fill="#e3dedb"/></svg></div><div class="ib" style="left:167px;top:83px;width:14px;height:15px;background:#d1c8c3"><svg viewBox="0 0 15 14" width="100%" height="100%"><line x1="10.90" y1="7.00" x2="12.65" y2="7.00" stroke="#e4d9d2" stroke-width="2.1"/><line x1="9.90" y1="9.40" x2="11.14" y2="10.64" stroke="#e4d9d2" stroke-width="2.1"/><line x1="7.50" y1="10.40" x2="7.50" y2="12.15" stroke="#e4d9d2" stroke-width="2.1"/><line x1="5.10" y1="9.40" x2="3.86" y2="10.64" stroke="#e4d9d2" stroke-width="2.1"/><line x1="4.10" y1="7.00" x2="2.35" y2="7.00" stroke="#e4d9d2" stroke-width="2.1"/><line x1="5.10" y1="4.60" x2="3.86" y2="3.36" stroke="#e4d9d2" stroke-width="2.1"/><line x1="7.50" y1="3.60" x2="7.50" y2="1.85" stroke="#e4d9d2" stroke-width="2.1"/><line x1="9.90" y1="4.60" x2="11.14" y2="3.36" stroke="#e4d9d2" stroke-width="2.1"/><circle cx="7.5" cy="7" r="3.0" fill="none" stroke="#e4d9d2" stroke-width="2.0"/></svg></div><div class="ib" style="left:184px;top:83px;width:14px;height:15px;background:#d1c8c3"><svg viewBox="0 0 15 14" width="100%" height="100%"><path d="M3.0 2.7 L12.0 11.2 M12.0 2.7 L3.0 11.2" stroke="#e4d9d2" stroke-width="2.1" fill="none"/></svg></div><div class="ib" style="left:149px;top:105.2px;width:13.8px;height:14.2px;background:#d1c8c3"><svg viewBox="0 0 15 14" width="100%" height="100%"><path d="M2.2 6.8 C4.4 1.5 9.9 1.5 12.1 6.8 C9.9 12.1 4.4 12.1 2.2 6.8Z" fill="none" stroke="#e4d9d2" stroke-width="1.45" stroke-linejoin="round"/><circle cx="7.15" cy="6.8" r="2.0" fill="none" stroke="#e4d9d2" stroke-width="1.1"/><circle cx="7.15" cy="6.8" r="0.75" fill="#e4d9d2"/></svg></div><div class="ib" style="left:166px;top:105.2px;width:13.8px;height:14.2px;background:#d1c8c3"><svg viewBox="0 0 15 14" width="100%" height="100%"><line x1="10.90" y1="7.00" x2="12.65" y2="7.00" stroke="#e4d9d2" stroke-width="2.1"/><line x1="9.90" y1="9.40" x2="11.14" y2="10.64" stroke="#e4d9d2" stroke-width="2.1"/><line x1="7.50" y1="10.40" x2="7.50" y2="12.15" stroke="#e4d9d2" stroke-width="2.1"/><line x1="5.10" y1="9.40" x2="3.86" y2="10.64" stroke="#e4d9d2" stroke-width="2.1"/><line x1="4.10" y1="7.00" x2="2.35" y2="7.00" stroke="#e4d9d2" stroke-width="2.1"/><line x1="5.10" y1="4.60" x2="3.86" y2="3.36" stroke="#e4d9d2" stroke-width="2.1"/><line x1="7.50" y1="3.60" x2="7.50" y2="1.85" stroke="#e4d9d2" stroke-width="2.1"/><line x1="9.90" y1="4.60" x2="11.14" y2="3.36" stroke="#e4d9d2" stroke-width="2.1"/><circle cx="7.5" cy="7" r="3.0" fill="none" stroke="#e4d9d2" stroke-width="2.0"/></svg></div><div class="ib" style="left:183px;top:105.2px;width:13.8px;height:14.2px;background:#d1c8c3"><svg viewBox="0 0 15 14" width="100%" height="100%"><path d="M3.0 2.7 L12.0 11.2 M12.0 2.7 L3.0 11.2" stroke="#e4d9d2" stroke-width="2.1" fill="none"/></svg></div><div class="ib" style="left:158.8px;top:127.2px;width:14px;height:14.5px;background:#d1c8c3"><svg viewBox="0 0 15 14" width="100%" height="100%"><path d="M2.2 6.8 C4.4 1.5 9.9 1.5 12.1 6.8 C9.9 12.1 4.4 12.1 2.2 6.8Z" fill="none" stroke="#e4d9d2" stroke-width="1.45" stroke-linejoin="round"/><circle cx="7.15" cy="6.8" r="2.0" fill="none" stroke="#e4d9d2" stroke-width="1.1"/><circle cx="7.15" cy="6.8" r="0.75" fill="#e4d9d2"/></svg></div><div class="ib" style="left:176px;top:127.2px;width:14px;height:14.5px;background:#d1c8c3"><svg viewBox="0 0 15 14" width="100%" height="100%"><line x1="10.90" y1="7.00" x2="12.65" y2="7.00" stroke="#e4d9d2" stroke-width="2.1"/><line x1="9.90" y1="9.40" x2="11.14" y2="10.64" stroke="#e4d9d2" stroke-width="2.1"/><line x1="7.50" y1="10.40" x2="7.50" y2="12.15" stroke="#e4d9d2" stroke-width="2.1"/><line x1="5.10" y1="9.40" x2="3.86" y2="10.64" stroke="#e4d9d2" stroke-width="2.1"/><line x1="4.10" y1="7.00" x2="2.35" y2="7.00" stroke="#e4d9d2" stroke-width="2.1"/><line x1="5.10" y1="4.60" x2="3.86" y2="3.36" stroke="#e4d9d2" stroke-width="2.1"/><line x1="7.50" y1="3.60" x2="7.50" y2="1.85" stroke="#e4d9d2" stroke-width="2.1"/><line x1="9.90" y1="4.60" x2="11.14" y2="3.36" stroke="#e4d9d2" stroke-width="2.1"/><circle cx="7.5" cy="7" r="3.0" fill="none" stroke="#e4d9d2" stroke-width="2.0"/></svg></div><div class="ib" style="left:193.2px;top:127.2px;width:14px;height:14.5px;background:#d1c8c3"><svg viewBox="0 0 15 14" width="100%" height="100%"><path d="M3.0 2.7 L12.0 11.2 M12.0 2.7 L3.0 11.2" stroke="#e4d9d2" stroke-width="2.1" fill="none"/></svg></div>

<!-- Buy label -->
<svg class="abs" style="left:0px;top:352px" width="26" height="26" viewBox="0 352 26 26"><rect x="1.15" y="353.5" width="21.7" height="22" rx="0" fill="#00821a"/></svg><svg class="abs" style="left:23px;top:352px" width="53" height="26" viewBox="23 352 53 26"><rect x="24.1" y="353.5" width="48.75" height="22" rx="2.2" fill="#00821a"/></svg>
<div class="tx w" style="left:32.55px;top:354.5px;font-size:17.5px;letter-spacing:0.324px;-webkit-text-stroke:0.5px #fff;">Buy</div>
<svg class="abs" style="left:0px;top:352px" width="26" height="26" viewBox="0 352 26 26"><circle cx="12.1" cy="364.55" r="9.4" fill="none" stroke="#fff" stroke-width="0.9"/><path d="M7.2 360.45 L16.8 368.75 M16.8 360.45 L7.2 368.75" stroke="#fff" stroke-opacity="0.92" stroke-width="0.95"/></svg>
<!-- S/L label -->
<svg class="abs" style="left:0px;top:440px" width="26" height="26" viewBox="0 440 26 26"><rect x="1.15" y="441.5" width="21.7" height="22" rx="0" fill="#f0651f"/></svg><svg class="abs" style="left:23px;top:440px" width="48" height="26" viewBox="23 440 48 26"><rect x="24.1" y="441.5" width="43.95" height="22" rx="1.2" fill="#f0651f"/></svg>
<div class="tx w" style="left:28.29px;top:442.6px;font-size:17.5px;letter-spacing:0.087px;-webkit-text-stroke:0.5px #fff;">S/L</div>
<svg class="abs" style="left:0px;top:440px" width="26" height="26" viewBox="0 440 26 26"><circle cx="12.1" cy="452.55" r="9.4" fill="none" stroke="#fff" stroke-width="0.9"/><path d="M7.2 448.45 L16.8 456.75 M16.8 448.45 L7.2 456.75" stroke="#fff" stroke-opacity="0.92" stroke-width="0.95"/></svg>
<svg class="abs" style="left:50px;top:441px" width="24" height="24" viewBox="50 441 24 24"><path d="M58.8 449.3 L62.9 443 L67.1 449.3Z M58.8 455.5 L67.1 455.5 L62.9 462Z" fill="#fff"/></svg>

<!-- axis -->
<div class="mo" style="left:5.5px">Apr</div><div class="mo" style="left:77.9px">Jun</div><div class="mo" style="left:143.0px">Aug</div><div class="mo" style="left:213.8px">Oct</div><div class="mo" style="left:287.3px">Dec</div><div class="mo" style="left:357.8px">Feb</div><div class="mo" style="left:421.3px">Apr</div><div class="mo" style="left:493.9px">Jun</div><div class="mo" style="left:567.4px">Aug</div><div class="mo" style="left:630.0px">Oct</div><div class="mo" style="left:703.2px">Dec</div><div class="mo" style="left:774.0px">Feb</div><div class="mo" style="left:837.4px">Apr</div><div class="mo" style="left:909.9px">Jun</div><div class="mo" style="left:983.0px">Aug</div><div class="mo" style="left:1045.8px">Oct</div><div class="mo" style="left:1119.2px">Dec</div><div class="mo" style="left:1190.3px">Feb</div><div class="mo" style="left:1253.6px">Apr</div><div class="mo" style="left:1326.0px">Jun</div><div class="mo" style="left:1399.2px">Aug</div><div class="mo" style="left:1469.7px">Oct</div><div class="tx " style="left:336.9px;top:962.9px;font-size:18px;letter-spacing:0.773px;">2020</div><div class="tx " style="left:754.4px;top:962.9px;font-size:18px;letter-spacing:1.265px;">202<svg viewBox="0 0 43 71.6" style="width:0.43em;height:0.716em;vertical-align:baseline;overflow:visible"><path d="M21.0 0 H29.5 V71.6 H20.2 V10.8 L8 19.8 V9.8 L21.0 0Z" fill="currentColor"/></svg></div><div class="tx " style="left:1177.6px;top:962.9px;font-size:18px;letter-spacing:0.9px;">2022</div>
<div class="tx " style="left:1537.36px;top:159.1px;font-size:18px;letter-spacing:1.102px;"><svg viewBox="0 0 43 71.6" style="width:0.43em;height:0.716em;vertical-align:baseline;overflow:visible"><path d="M21.0 0 H29.5 V71.6 H20.2 V10.8 L8 19.8 V9.8 L21.0 0Z" fill="currentColor"/></svg>60<i style="margin:0 -0.81px">.</i>00</div><div class="tx " style="left:1538.0px;top:710px;font-size:18px;letter-spacing:0.884px;">80<i style="margin:0 -0.81px">.</i>00</div><div class="tx " style="left:1537.8px;top:962.9px;font-size:18px;letter-spacing:0.467px;">7<i style="margin:0 -0.81px">.</i>5000</div>
<div class="abs" style="left:1538px;top:981.2px;width:55.5px;height:3.8px;background:#6e6e6e;border-radius:2px 2px 0 0"></div>

<!-- price labels -->
<svg class="abs" style="left:1535px;top:343px" width="59" height="26" viewBox="1535 343 59 26"><rect x="1536.6" y="344.3" width="54.4" height="22" rx="0" fill="#0a8cff"/></svg><div class="tx w" style="left:1537.24px;top:345px;font-size:18px;letter-spacing:0.534px;-webkit-text-stroke:0.45px #fff;"><svg viewBox="0 0 43 71.6" style="width:0.43em;height:0.716em;vertical-align:baseline;overflow:visible"><path d="M18.8 0 H29.5 V71.6 H18.0 V13.0 L8 22.0 V12.0 L18.8 0Z" fill="currentColor"/></svg>32<i style="margin:0 -0.81px">.</i>90</div>
<svg class="abs" style="left:1537px;top:395px" width="59" height="26" viewBox="1537 395 59 26"><rect x="1538.2" y="396.4" width="54.5" height="22" rx="2" fill="#8c8c8c"/></svg><div class="tx w" style="left:1537.19px;top:398px;font-size:18px;letter-spacing:1.153px;-webkit-text-stroke:0.45px #fff;"><svg viewBox="0 0 43 71.6" style="width:0.43em;height:0.716em;vertical-align:baseline;overflow:visible"><path d="M18.8 0 H29.5 V71.6 H18.0 V13.0 L8 22.0 V12.0 L18.8 0Z" fill="currentColor"/></svg>25<i style="margin:0 -0.81px">.</i>46</div>
<svg class="abs" style="left:1537px;top:419px" width="55" height="26" viewBox="1537 419 55 26"><rect x="1538.2" y="420.6" width="50.8" height="22" rx="2" fill="#ff40ff"/></svg><div class="tx w" style="left:1537.54px;top:422px;font-size:18px;letter-spacing:1.121px;-webkit-text-stroke:0.45px #fff;"><svg viewBox="0 0 43 71.6" style="width:0.43em;height:0.716em;vertical-align:baseline;overflow:visible"><path d="M18.8 0 H29.5 V71.6 H18.0 V13.0 L8 22.0 V12.0 L18.8 0Z" fill="currentColor"/></svg>2<svg viewBox="0 0 43 71.6" style="width:0.43em;height:0.716em;vertical-align:baseline;overflow:visible"><path d="M18.8 0 H29.5 V71.6 H18.0 V13.0 L8 22.0 V12.0 L18.8 0Z" fill="currentColor"/></svg><i style="margin:0 -0.81px">.</i>92</div>
<svg class="abs" style="left:1580px;top:430px" width="18" height="24" viewBox="1580 430 18 24"><path d="M1589.2 437.6 Q1593.4 442.6 1590.6 448.2" fill="none" stroke="#111" stroke-width="1.3"/></svg>
<svg class="abs" style="left:1537px;top:453px" width="55" height="26" viewBox="1537 453 55 26"><rect x="1538.2" y="454.7" width="50.8" height="22" rx="2" fill="#ad7a22"/></svg><div class="tx w" style="left:1537.54px;top:456px;font-size:18px;letter-spacing:0.821px;-webkit-text-stroke:0.45px #fff;"><svg viewBox="0 0 43 71.6" style="width:0.43em;height:0.716em;vertical-align:baseline;overflow:visible"><path d="M18.8 0 H29.5 V71.6 H18.0 V13.0 L8 22.0 V12.0 L18.8 0Z" fill="currentColor"/></svg><svg viewBox="0 0 43 71.6" style="width:0.43em;height:0.716em;vertical-align:baseline;overflow:visible"><path d="M18.8 0 H29.5 V71.6 H18.0 V13.0 L8 22.0 V12.0 L18.8 0Z" fill="currentColor"/></svg>6<i style="margin:0 -0.81px">.</i>97</div>
<svg class="abs" style="left:1537px;top:440px" width="57" height="26" viewBox="1537 440 57 26"><rect x="1538.2" y="441.9" width="52.8" height="22" rx="2" fill="#f0651f"/></svg><div class="tx w" style="left:1537.54px;top:443px;font-size:18px;letter-spacing:1.534px;-webkit-text-stroke:0.45px #fff;"><svg viewBox="0 0 43 71.6" style="width:0.43em;height:0.716em;vertical-align:baseline;overflow:visible"><path d="M18.8 0 H29.5 V71.6 H18.0 V13.0 L8 22.0 V12.0 L18.8 0Z" fill="currentColor"/></svg><svg viewBox="0 0 43 71.6" style="width:0.43em;height:0.716em;vertical-align:baseline;overflow:visible"><path d="M18.8 0 H29.5 V71.6 H18.0 V13.0 L8 22.0 V12.0 L18.8 0Z" fill="currentColor"/></svg>8<i style="margin:0 -0.81px">.</i>88</div>
<svg class="abs" style="left:1537px;top:352px" width="55" height="26" viewBox="1537 352 55 26"><rect x="1538.2" y="353.5" width="50.7" height="22" rx="2" fill="#00821a"/></svg><div class="tx w" style="left:1537.54px;top:355px;font-size:18px;letter-spacing:0.866px;-webkit-text-stroke:0.45px #fff;"><svg viewBox="0 0 43 71.6" style="width:0.43em;height:0.716em;vertical-align:baseline;overflow:visible"><path d="M18.8 0 H29.5 V71.6 H18.0 V13.0 L8 22.0 V12.0 L18.8 0Z" fill="currentColor"/></svg>3<svg viewBox="0 0 43 71.6" style="width:0.43em;height:0.716em;vertical-align:baseline;overflow:visible"><path d="M18.8 0 H29.5 V71.6 H18.0 V13.0 L8 22.0 V12.0 L18.8 0Z" fill="currentColor"/></svg><i style="margin:0 -0.81px">.</i>73</div>
</body></html>
